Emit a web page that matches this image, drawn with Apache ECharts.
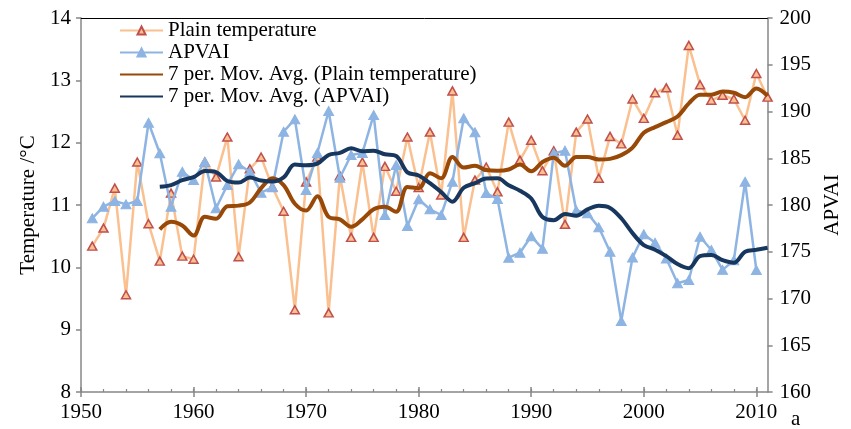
<!DOCTYPE html>
<html>
<head>
<meta charset="utf-8">
<script src="https://cdn.jsdelivr.net/npm/echarts@6/dist/echarts.min.js"></script>
<style>
  html, body { margin: 0; padding: 0; background: #fff; }
  #chart { width: 851px; height: 429px; }
</style>
</head>
<body>
<div id="chart"></div>
<script>
// Annual plain temperature (°C), 1951–2011
const temperature = [
  10.34, 10.63, 11.27, 9.56, 11.69, 10.70, 10.10, 11.19, 10.18, 10.13,
  11.69, 11.45, 12.09, 10.17, 11.58, 11.77, 11.29, 10.90, 9.32, 11.37,
  11.77, 9.27, 11.47, 10.48, 11.69, 10.48, 11.62, 11.22, 12.09, 11.28,
  12.17, 11.16, 12.83, 10.48, 11.40, 11.61, 11.21, 12.33, 11.72, 12.04,
  11.55, 11.87, 10.69, 12.17, 12.38, 11.43, 12.10, 11.98, 12.70, 12.39,
  12.80, 12.88, 12.12, 13.56, 12.93, 12.68, 12.76, 12.70, 12.36, 13.11,
  12.73
];
const temperatureStart = 1951;

// APVAI, 1951–2010
const apvai = [
  178.58, 179.82, 180.43, 180.07, 180.43, 188.80, 185.53, 179.82, 183.56, 182.67,
  184.63, 179.65, 182.14, 184.35, 183.56, 181.32, 181.89, 187.84, 189.17, 181.60,
  185.56, 190.05, 182.92, 185.35, 185.56, 189.63, 178.93, 184.28, 177.75, 180.61,
  179.54, 178.93, 182.49, 189.27, 187.78, 181.28, 180.64, 174.36, 174.90, 176.65,
  175.33, 185.53, 185.81, 179.41, 179.11, 177.61, 175.01, 167.59, 174.39, 176.87,
  175.96, 174.28, 171.63, 171.98, 176.61, 175.19, 173.06, 174.08, 182.49, 173.05
];
const apvaiStart = 1951;

// 7-period moving averages, 1957–2011
const temperatureAvg = [
  10.61, 10.73, 10.67, 10.51, 10.81, 10.78, 10.98, 10.99, 11.04, 11.27,
  11.43, 11.32, 11.02, 10.91, 11.14, 10.81, 10.77, 10.65, 10.77, 10.93,
  10.97, 10.89, 11.29, 11.27, 11.51, 11.43, 11.77, 11.60, 11.63, 11.56,
  11.55, 11.57, 11.65, 11.54, 11.69, 11.76, 11.63, 11.77, 11.77, 11.73,
  11.74, 11.80, 11.92, 12.16, 12.25, 12.33, 12.42, 12.63, 12.77, 12.77,
  12.82, 12.80, 12.73, 12.87, 12.75
];
const apvaiAvg = [
  181.95, 182.13, 182.66, 182.98, 183.63, 183.52, 182.57, 182.40, 182.94, 182.62,
  182.51, 182.96, 184.32, 184.25, 184.42, 185.35, 185.58, 186.07, 185.74, 185.81,
  185.43, 185.25, 183.49, 183.16, 182.33, 181.38, 180.36, 181.84, 182.34, 182.84,
  182.85, 182.11, 181.53, 180.70, 178.71, 178.38, 179.03, 178.86, 179.53, 179.92,
  179.69, 178.58, 176.99, 175.71, 175.22, 174.53, 173.68, 173.24, 174.53, 174.65,
  174.10, 173.83, 175.01, 175.21, 175.43
];
const avgStart = 1957;

// Axis ticks
const yearMajorTicks = [1950, 1960, 1970, 1980, 1990, 2000, 2010];
const yearMinorTicks = [];
for (let y = 1950; y <= 2010; y += 2) yearMinorTicks.push(y);

const names = [
  'Plain temperature',
  'APVAI',
  '7 per. Mov. Avg. (Plain temperature)',
  '7 per. Mov. Avg. (APVAI)'
];

function pairs(values, start) {
  return values.map((v, i) => [start + i, v]);
}

const FONT = 'Liberation Serif';
const FS = 21;
const AXIS_GREY = '#878787';
const xMin = 1950, xMax = 2011;

const chart = echarts.init(document.getElementById('chart'), null, { renderer: 'canvas' });

const baseX = {
  type: 'value', min: xMin, max: xMax, position: 'bottom',
  splitLine: { show: false }
};

chart.setOption({
  animation: false,
  backgroundColor: '#fff',
  textStyle: { fontFamily: FONT },
  grid: { left: 81, right: 81, top: 18, bottom: 37, containLabel: false },
  legend: {
    orient: 'vertical',
    left: 119, top: 20,
    padding: 0,
    itemWidth: 43, itemHeight: 10, itemGap: 1,
    textStyle: { fontFamily: FONT, fontSize: FS, color: '#000', lineHeight: 21 },
    data: [
      { name: names[0] },
      { name: names[1] },
      { name: names[2], itemStyle: { opacity: 0 } },
      { name: names[3], itemStyle: { opacity: 0 } }
    ]
  },
  xAxis: [
    Object.assign({}, baseX, {
      axisLine: { lineStyle: { color: AXIS_GREY, width: 1.5 } },
      axisTick: { inside: true, length: 5, customValues: yearMajorTicks, lineStyle: { color: AXIS_GREY, width: 1.5 } },
      axisLabel: {
        customValues: yearMajorTicks, color: '#000', fontFamily: FONT, fontSize: FS, margin: 10,
        formatter: v => String(v)
      }
    }),
    Object.assign({}, baseX, {
      axisLine: { show: false },
      axisTick: { inside: true, length: 3, customValues: yearMinorTicks, lineStyle: { color: AXIS_GREY, width: 1.2 } },
      axisLabel: { show: false }
    }),
    Object.assign({}, baseX, {
      axisLine: { show: false },
      axisTick: { inside: false, length: 5, customValues: yearMajorTicks, lineStyle: { color: AXIS_GREY, width: 1.5 } },
      axisLabel: { show: false }
    }),
    Object.assign({}, baseX, {
      position: 'top',
      axisLine: { lineStyle: { color: '#000', width: 1 } },
      axisTick: { show: false },
      axisLabel: { show: false }
    })
  ],
  yAxis: [
    {
      type: 'value', min: 8, max: 14, interval: 1, position: 'left',
      name: 'Temperature /°C', nameLocation: 'middle', nameRotate: 90, nameGap: 42,
      nameTextStyle: { color: '#000', fontFamily: FONT, fontSize: FS },
      axisLine: { show: true, lineStyle: { color: AXIS_GREY, width: 1.5 } },
      axisTick: { show: true, length: 5, lineStyle: { color: AXIS_GREY, width: 1.5 } },
      axisLabel: { color: '#000', fontFamily: FONT, fontSize: FS, margin: 10 },
      splitLine: { show: false }
    },
    {
      type: 'value', min: 160, max: 200, interval: 5, position: 'right',
      name: 'APVAI', nameLocation: 'middle', nameRotate: 90, nameGap: 50,
      nameTextStyle: { color: '#000', fontFamily: FONT, fontSize: FS },
      axisLine: { show: true, lineStyle: { color: AXIS_GREY, width: 1.5 } },
      axisTick: { show: true, length: 5, lineStyle: { color: AXIS_GREY, width: 1.5 } },
      axisLabel: { color: '#000', fontFamily: FONT, fontSize: FS, margin: 12 },
      splitLine: { show: false }
    }
  ],
  graphic: [
    { type: 'text', left: 791, top: 409, style: { text: 'a', font: FS + 'px "Liberation Serif"', fill: '#000' } }
  ],
  series: [
    {
      name: names[0], type: 'line', xAxisIndex: 0, yAxisIndex: 0,
      data: pairs(temperature, temperatureStart),
      symbol: 'triangle', symbolSize: [9, 8], showAllSymbol: true,
      lineStyle: { color: '#FAC090', width: 2.5 },
      itemStyle: { color: '#FAC090', borderColor: '#C0504D', borderWidth: 1.5 },
      z: 2
    },
    {
      name: names[1], type: 'line', xAxisIndex: 0, yAxisIndex: 1,
      data: pairs(apvai, apvaiStart),
      symbol: 'triangle', symbolSize: [10, 9], showAllSymbol: true,
      lineStyle: { color: '#8DB4E2', width: 2.5 },
      itemStyle: { color: '#8DB4E2', borderColor: '#8DB4E2', borderWidth: 1 },
      z: 3
    },
    {
      name: names[2], type: 'line', xAxisIndex: 0, yAxisIndex: 0,
      data: pairs(temperatureAvg, avgStart),
      symbol: 'none', smooth: 0.35,
      lineStyle: { color: '#984807', width: 4 },
      itemStyle: { color: '#984807' },
      z: 4
    },
    {
      name: names[3], type: 'line', xAxisIndex: 0, yAxisIndex: 1,
      data: pairs(apvaiAvg, avgStart),
      symbol: 'none', smooth: 0.35,
      lineStyle: { color: '#17375E', width: 4 },
      itemStyle: { color: '#17375E' },
      z: 5
    }
  ]
});
</script>
</body>
</html>
